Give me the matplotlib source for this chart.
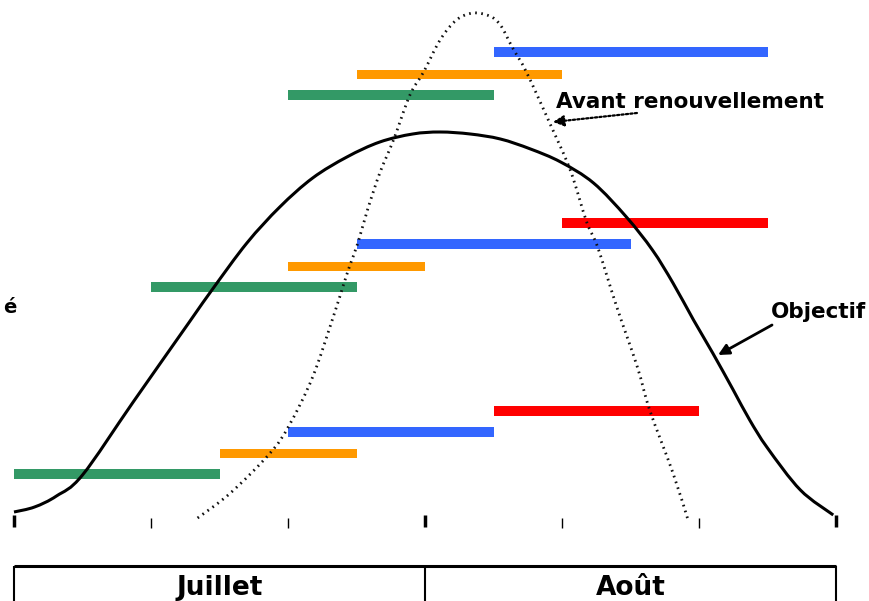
import matplotlib
matplotlib.use("Agg")
import matplotlib.pyplot as plt
from matplotlib.path import Path
from matplotlib.patches import PathPatch

plt.rcParams['font.family'] = ['DejaVu Sans']

# x in periods (0..6 = July + August), y in arbitrary level units
months = ['Juillet', 'Août']
month_centers = [1.5, 4.5]
period_ticks = [0, 1, 2, 3, 4, 5, 6]

# Objectif (solid curve)
obj_x = [0.00, 0.15, 0.31, 0.50, 0.87, 1.28, 1.45, 1.70, 1.94, 2.18, 2.43, 2.67,
         2.91, 3.11, 3.33, 3.55, 3.77, 3.99, 4.23, 4.47, 4.66, 4.81, 4.96, 5.10,
         5.25, 5.37, 5.50, 5.74, 5.98]
obj_y = [5, 10, 21, 42, 115, 195, 228, 274, 310, 339, 360, 375,
         383, 385, 383, 378, 368, 355, 334, 300, 267, 234, 197, 164,
         127, 97, 69, 27, 2]

# Avant renouvellement (dotted curve)
avant_x = [1.34, 1.58, 1.87, 2.01, 2.18, 2.33, 2.40, 2.45, 2.51, 2.58, 2.67, 2.77,
           2.89, 2.99, 3.11, 3.23, 3.35, 3.47, 3.55, 3.64, 3.74, 3.91, 4.06, 4.18,
           4.26, 4.40, 4.55, 4.64, 4.81, 4.92]
avant_y = [-1, 24, 64, 92, 140, 200, 230, 251, 274, 307, 344, 377,
           422, 445, 477, 497, 504, 501, 492, 469, 445, 394, 347, 295,
           270, 210, 150, 107, 44, -3]

# horizontal bars: start, end, level
green_start = [0, 1, 2]
green_end = [1.5, 2.5, 3.5]
green_level = [43, 230, 422]

orange_start = [1.5, 2, 2.5]
orange_end = [2.5, 3, 4]
orange_level = [64, 251, 443]

blue_start = [2, 2.5, 3.5]
blue_end = [3.5, 4.5, 5.5]
blue_level = [85, 273, 465]

red_start = [3.5, 4]
red_end = [5, 5.5]
red_level = [106, 294]

fig = plt.figure(figsize=(8.69, 6.01), dpi=100)
ax = fig.add_axes([0, 0, 1, 1])
ax.set_xlim(-14 / 137, 855 / 137)
ax.set_ylim(-84, 517)
ax.axis('off')


def bars(start, end, level, color, h=10):
    widths = [e - s for s, e in zip(start, end)]
    ax.barh(level, widths, left=start, height=h, color=color, zorder=2)


def smooth_path(xs, ys):
    # Catmull-Rom through the read points, drawn as cubic Bezier segments
    pts = list(zip(xs, ys))
    n = len(pts)
    verts = [pts[0]]
    codes = [Path.MOVETO]
    for i in range(n - 1):
        p0 = pts[max(i - 1, 0)]
        p1 = pts[i]
        p2 = pts[i + 1]
        p3 = pts[min(i + 2, n - 1)]
        c1 = (p1[0] + (p2[0] - p0[0]) / 6, p1[1] + (p2[1] - p0[1]) / 6)
        c2 = (p2[0] - (p3[0] - p1[0]) / 6, p2[1] - (p3[1] - p1[1]) / 6)
        verts += [c1, c2, p2]
        codes += [Path.CURVE4] * 3
    return Path(verts, codes)


bars(green_start, green_end, green_level, '#339966')
bars(orange_start, orange_end, orange_level, '#FF9900', h=9)
bars(blue_start, blue_end, blue_level, '#3366FF')
bars(red_start, red_end, red_level, '#FF0000')

ax.add_patch(PathPatch(smooth_path(obj_x, obj_y), fill=False, color='black',
                       lw=2.2, zorder=3))
ax.add_patch(PathPatch(smooth_path(avant_x, avant_y), fill=False, color='#111111',
                       lw=2.0, ls=(0, (0.6, 1.6)), zorder=3))

# axis ticks (no baseline)
for t in period_ticks:
    if t % 3 == 0:
        ax.vlines(t, -10, 2, color='black', lw=2.5)
    else:
        ax.vlines(t, -11, -1, color='black', lw=1)

# month table
ax.hlines(-49, 0, 6, color='black', lw=2.2)
ax.vlines([0, 3, 6], -84, -49, color='black', lw=1.5)
for m, c in zip(months, month_centers):
    ax.text(c, -78, m, ha='center', va='baseline', fontsize=19, fontweight='bold')

# annotations
ax.text(3.956, 409, 'Avant renouvellement', fontsize=15.5, fontweight='bold',
        va='baseline', ha='left')
ax.annotate('', xy=(3.934, 395), xytext=(4.547, 404),
            arrowprops=dict(arrowstyle='-|>', ls=(0, (1, 1)), lw=1.6,
                            color='black', mutation_scale=16, shrinkA=0, shrinkB=0))

ax.text(5.526, 199, 'Objectif', fontsize=15.5, fontweight='bold',
        va='baseline', ha='left')
ax.annotate('', xy=(5.139, 162), xytext=(5.533, 192),
            arrowprops=dict(arrowstyle='-|>', lw=2, color='black',
                            mutation_scale=16, shrinkA=0, shrinkB=0))

ax.text(0.015, 204, 'é', fontsize=14, fontweight='bold', ha='right', va='baseline')

fig.savefig('out.png', dpi=100)
